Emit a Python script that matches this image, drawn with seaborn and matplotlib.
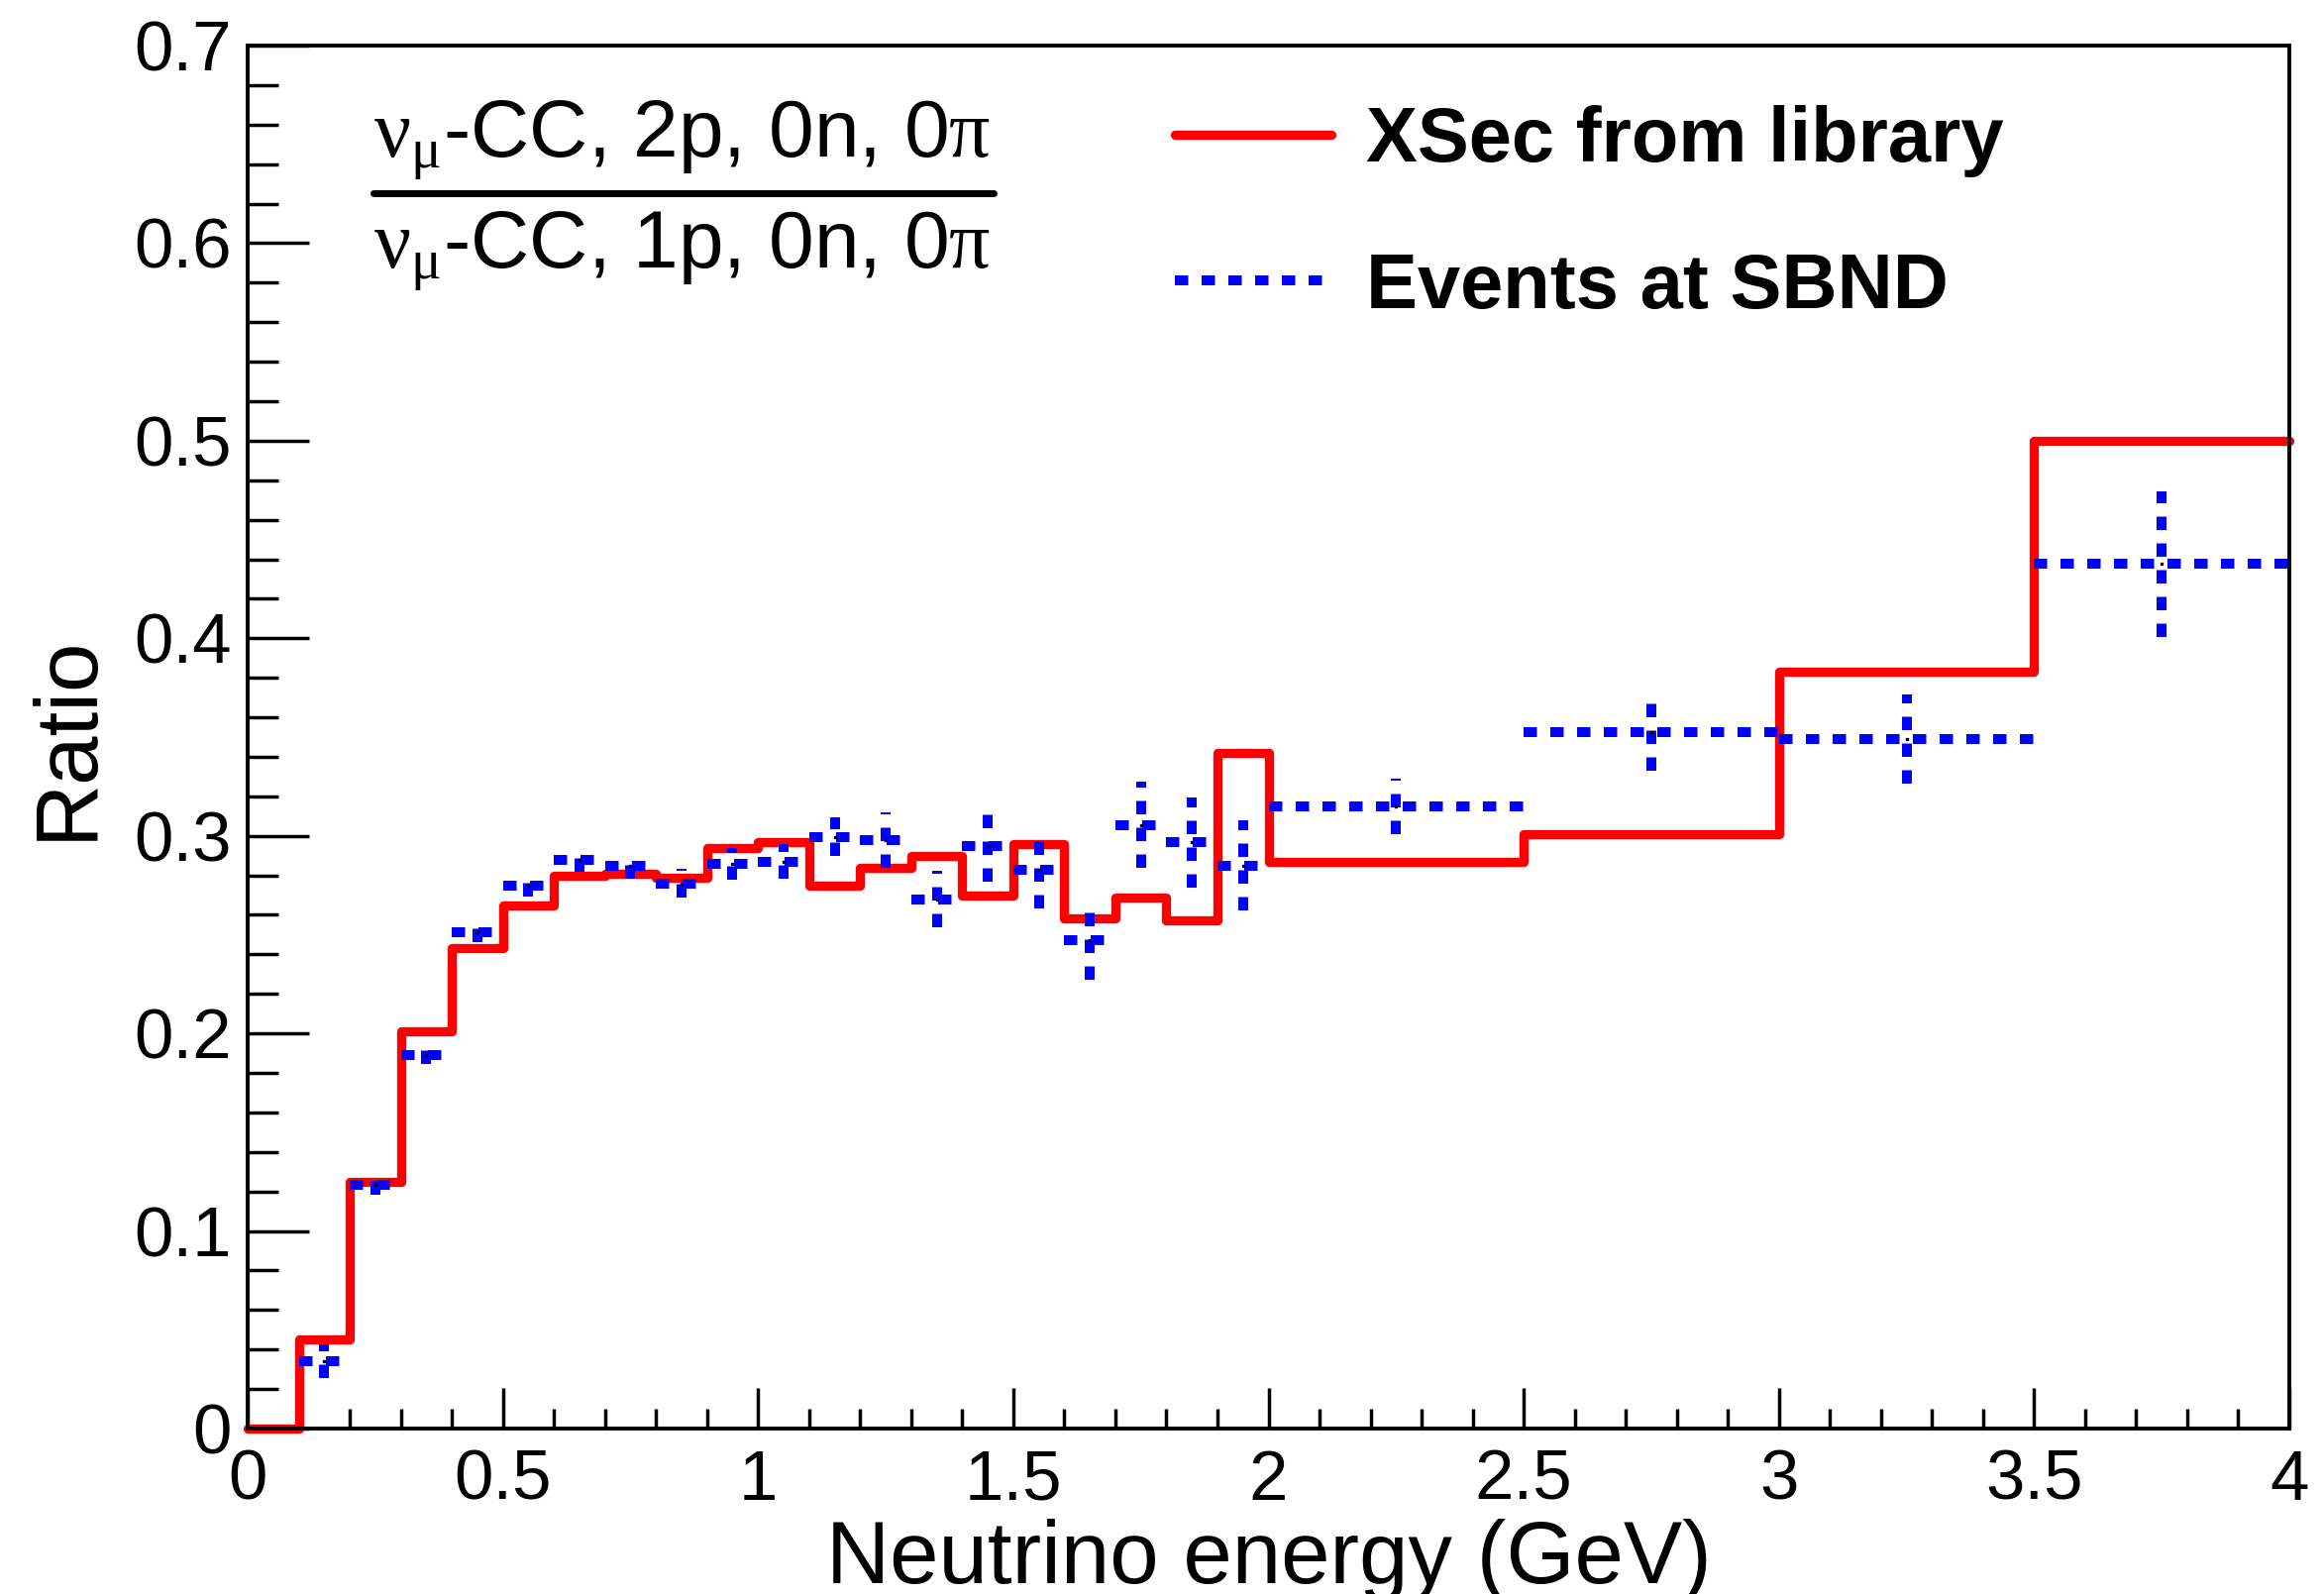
import numpy as np
import pandas as pd
import matplotlib
matplotlib.use('Agg')
import matplotlib.pyplot as plt
import matplotlib.ticker as ticker
from matplotlib.lines import Line2D
import seaborn as sns

# energy bins (GeV): 0.1 GeV wide up to 2 GeV, then 0.5 GeV wide
EDGES = [0.0, 0.1, 0.2, 0.3, 0.4, 0.5, 0.6, 0.7, 0.8, 0.9, 1.0,
         1.1, 1.2, 1.3, 1.4, 1.5, 1.6, 1.7, 1.8, 1.9, 2.0,
         2.5, 3.0, 3.5, 4.0]

# 2p0n0pi / 1p0n0pi ratio from the cross-section library (one value per bin)
XSEC_RATIO = [0.0, 0.045, 0.125, 0.201, 0.243, 0.265, 0.280, 0.281, 0.279, 0.294,
              0.297, 0.275, 0.284, 0.290, 0.270, 0.296, 0.258, 0.269, 0.257, 0.342,
              0.287, 0.301, 0.383, 0.500]

# same ratio from events at SBND (first bin is empty)
EVT_RATIO = [np.nan, 0.034, 0.1235, 0.189, 0.251, 0.275, 0.288, 0.285, 0.276, 0.286,
             0.287, 0.2996, 0.298, 0.268, 0.295, 0.283, 0.247, 0.3056, 0.2966, 0.285,
             0.3148, 0.3527, 0.349, 0.4376]
EVT_ERR = [np.nan, 0.0085, 0.005, 0.0044, 0.005, 0.0056, 0.0062, 0.0069, 0.0073, 0.008,
           0.0086, 0.010, 0.014, 0.0145, 0.018, 0.0195, 0.020, 0.022, 0.0227, 0.023,
           0.014, 0.0195, 0.0227, 0.037]

W, H = 2346, 1609
RED = '#ff0000'
BLUE = '#0000ff'
DOTS = (0, (1.35, 1.35))

edges = np.array(EDGES)
df = pd.DataFrame({
    'center': (edges[:-1] + edges[1:]) / 2,
    'halfwidth': (edges[1:] - edges[:-1]) / 2,
    'xsec': XSEC_RATIO,
    'evt': EVT_RATIO,
    'evt_err': EVT_ERR,
})

sns.set_theme(style='ticks')
plt.rcParams['font.family'] = ['Liberation Sans', 'DejaVu Sans']
plt.rcParams['mathtext.fontset'] = 'custom'
plt.rcParams['mathtext.rm'] = 'Liberation Serif'
plt.rcParams['mathtext.it'] = 'Liberation Serif:italic'
for key in ['axes.edgecolor', 'xtick.color', 'ytick.color', 'text.color',
            'axes.labelcolor', 'xtick.labelcolor', 'ytick.labelcolor']:
    plt.rcParams[key] = 'black'

fig = plt.figure(figsize=(W / 100, H / 100), dpi=100)
ax = fig.add_axes([250 / W, 1 - 1442 / H, (2311 - 250) / W, (1442 - 46) / H])

# library cross-section ratio as a step histogram
sns.histplot(x=df['center'], weights=df['xsec'], bins=EDGES, element='step',
             fill=False, color=RED, linewidth=6.7, clip_on=False, zorder=2, ax=ax)

# SBND events with dotted error bars
ev = df.dropna()
eb = ax.errorbar(ev['center'], ev['evt'], xerr=ev['halfwidth'], yerr=ev['evt_err'],
                 fmt='s', ms=1.8, color='black', ecolor=BLUE, elinewidth=7.2,
                 capsize=0, zorder=3)
for lc in eb.lines[2]:
    lc.set_linestyle(DOTS)
    lc.set_capstyle('butt')

ax.set_xlim(0, 4)
ax.set_ylim(0, 0.7)
ax.xaxis.set_major_locator(ticker.MultipleLocator(0.5))
ax.xaxis.set_minor_locator(ticker.MultipleLocator(0.1))
ax.yaxis.set_major_locator(ticker.MultipleLocator(0.1))
ax.yaxis.set_minor_locator(ticker.MultipleLocator(0.02))
fmt = ticker.FuncFormatter(lambda v, _: f'{v:g}')
ax.xaxis.set_major_formatter(fmt)
ax.yaxis.set_major_formatter(fmt)

ax.tick_params(axis='both', which='both', direction='in', top=False, right=False,
               width=2.5, color='black')
ax.tick_params(axis='y', which='major', length=44.6, labelsize=51, pad=11.5)
ax.tick_params(axis='y', which='minor', length=22.3)
ax.tick_params(axis='x', which='major', length=29.5, labelsize=51, pad=15)
ax.tick_params(axis='x', which='minor', length=14.4)
for sp in ax.spines.values():
    sp.set_linewidth(2.8)
    sp.set_color('black')

ax.set_xlabel('Neutrino energy (GeV)', fontsize=64)
ax.xaxis.set_label_coords(0.5, -(1598 - 1442) / (1442 - 46))
ax.xaxis.label.set_va('baseline')
ax.set_ylabel('Ratio', fontsize=64)
ax.yaxis.set_label_coords(-(250 - 92) / (2311 - 250), 0.5)
ax.yaxis.label.set_va('baseline')

# fraction label
fig.text(377 / W, 1 - 158 / H, r'$\mathrm{\nu}_{\mathrm{\mu}}$-CC, 2p, 0n, 0$\mathrm{\pi}$',
         fontsize=59, ha='left', va='baseline')
fig.text(377 / W, 1 - 270 / H, r'$\mathrm{\nu}_{\mathrm{\mu}}$-CC, 1p, 0n, 0$\mathrm{\pi}$',
         fontsize=59, ha='left', va='baseline')
fig.add_artist(Line2D([377 / W, 1003 / W], [1 - 195 / H, 1 - 195 / H],
                      color='black', lw=5, transform=fig.transFigure))

handles = [Line2D([], [], color=RED, lw=6.7),
           Line2D([], [], color=BLUE, lw=7.2, ls=DOTS, dash_capstyle='butt')]
ax.legend(handles, ['XSec from library', 'Events at SBND'], loc='upper left',
          bbox_to_anchor=(1186 / W, 1 - 106 / H), bbox_transform=fig.transFigure,
          frameon=False, borderpad=0, borderaxespad=0, handlelength=2.03,
          handletextpad=0.45, labelspacing=0.96, prop={'weight': 'bold', 'size': 56})

fig.savefig('out.png', dpi=100)
